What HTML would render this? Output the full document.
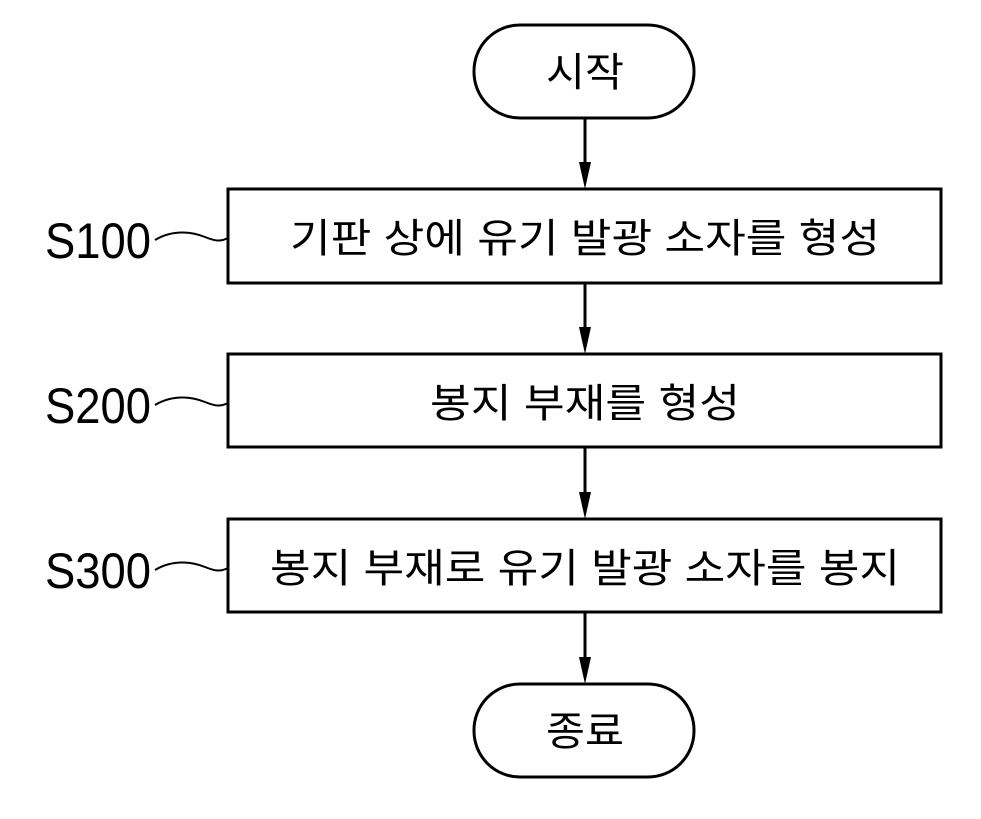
<!DOCTYPE html>
<html><head><meta charset="utf-8"><style>html,body{margin:0;padding:0;background:#fff}</style></head>
<body>
<svg width="981" height="814" viewBox="0 0 981 814" xmlns="http://www.w3.org/2000/svg">
<g fill="none" stroke="#000" stroke-width="3">
<rect x="474" y="25" width="220" height="93" rx="46" ry="46"/>
<rect x="228" y="189" width="713" height="94"/>
<rect x="228" y="354" width="713" height="93"/>
<rect x="228" y="519" width="713" height="93"/>
<rect x="474" y="684" width="220" height="93" rx="46" ry="46"/>
<line x1="585" y1="118" x2="585" y2="165"/>
<line x1="585" y1="283" x2="585" y2="330"/>
<line x1="585" y1="447" x2="585" y2="495"/>
<line x1="585" y1="612" x2="585" y2="660"/>
<path stroke-width="2" d="M155 240 C175 228,195 233,205 237 S220 242,228 238"/>
<path stroke-width="2" d="M155 405 C175 393,195 398,205 402 S220 407,228 403"/>
<path stroke-width="2" d="M155 570 C175 558,195 563,205 567 S220 572,228 568"/>
</g>
<g fill="#000">
<polygon points="579,162 591,162 585,189"/>
<polygon points="579,327 591,327 585,354"/>
<polygon points="579,492 591,492 585,519"/>
<polygon points="579,657 591,657 585,684"/>
</g>
<g font-family="'Liberation Sans','Noto Sans CJK KR','NanumGothic',sans-serif" font-size="40" text-anchor="middle" fill="#000">
<text x="585" y="86" textLength="78" lengthAdjust="spacingAndGlyphs">시작</text>
<text x="585" y="252" textLength="590" lengthAdjust="spacingAndGlyphs">기판 상에 유기 발광 소자를 형성</text>
<text x="585" y="417" textLength="310" lengthAdjust="spacingAndGlyphs">봉지 부재를 형성</text>
<text x="585" y="582" textLength="630" lengthAdjust="spacingAndGlyphs">봉지 부재로 유기 발광 소자를 봉지</text>
<text x="585" y="745" textLength="78" lengthAdjust="spacingAndGlyphs">종료</text>
</g>
<g font-family="'Liberation Sans',sans-serif" font-size="50" fill="#000">
<text x="45" y="258" textLength="106" lengthAdjust="spacingAndGlyphs">S100</text>
<text x="45" y="423" textLength="106" lengthAdjust="spacingAndGlyphs">S200</text>
<text x="45" y="588" textLength="106" lengthAdjust="spacingAndGlyphs">S300</text>
</g>
</svg>
</body></html>
